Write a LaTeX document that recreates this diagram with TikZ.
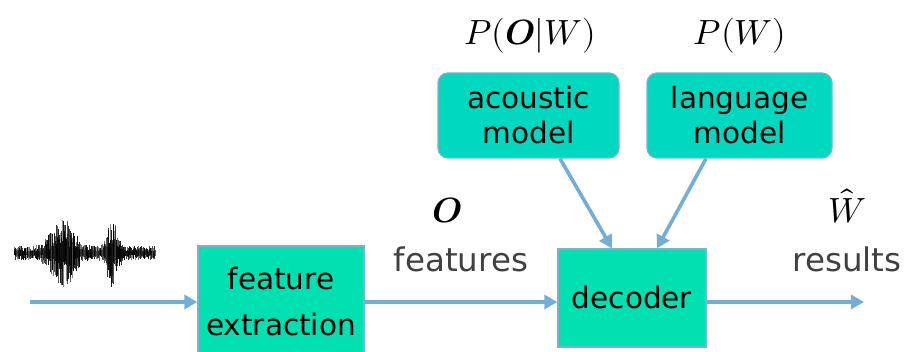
\documentclass[tikz,border=0pt]{standalone}
\usepackage{fontspec}
\usepackage{unicode-math}
\setmathfont{Latin Modern Math}
\usetikzlibrary{arrows.meta}
\newfontfamily\labfont{DejaVu Sans}
\definecolor{arrblue}{RGB}{116,174,212}
\definecolor{boxtop}{RGB}{0,217,192}
\definecolor{boxbot}{RGB}{0,224,176}
\definecolor{boxline}{RGB}{126,176,210}
\definecolor{labgray}{RGB}{64,64,64}
\tikzset{
  blockbox/.style={draw=boxline, line width=1.3pt, fill=boxbot, align=center,
    font=\labfont\fontsize{29.5}{46}\selectfont, inner sep=0pt},
  modelbox/.style={blockbox, fill=boxtop, rounded corners=10pt,
    font=\labfont\fontsize{29.5}{35}\selectfont},
  arr/.style={draw=arrblue, line width=3.6pt, -{Triangle[length=13pt,width=14pt]}},
  sidelabel/.style={font=\labfont\fontsize{32.5}{36}\selectfont, text=labgray, inner sep=0pt},
  mathlabel/.style={font=\fontsize{35}{40}\selectfont, inner sep=1pt}
}
\begin{document}
\begin{tikzpicture}[x=1pt,y=-1pt]
\useasboundingbox (0,0) rectangle (906,352);
\clip (0,0) rectangle (906,352);
% waveform
\pgfmathsetseed{7}
\foreach \i in {0,...,282}{
  \pgfmathsetmacro{\xx}{14+\i*0.5}
  \pgfmathsetmacro{\env}{7+28*exp(-((\xx-63)/15)^2)+27*exp(-((\xx-112)/7)^2)}
  \pgfmathsetmacro{\up}{\env*(0.2+0.8*rnd)}
  \pgfmathsetmacro{\dn}{\env*(0.2+0.8*rnd)}
  \pgfmathsetmacro{\op}{0.4+0.6*rnd}
  \draw[black, line width=0.55pt, draw opacity=\op] (\xx,253-\up) -- (\xx,253+\dn);
}
% boxes
\node[blockbox, minimum width=166pt, minimum height=112pt] (fe) at (281,302) {feature\\extraction};
\node[blockbox, minimum width=148pt, minimum height=98pt] (dec) at (632,298) {decoder};
\node[modelbox, minimum width=181pt, minimum height=85pt] (am) at (528.5,115.5) {acoustic\\model};
\node[modelbox, minimum width=185pt, minimum height=85pt] (lm) at (739.5,115.5) {language\\model};
% labels
\node[mathlabel] (pow) at (530,36) {$P(\symbfit{O}|W)$};
\node[mathlabel] (pw) at (740,36) {$P(W)$};
\node[mathlabel] (o) at (447,210) {$\symbfit{O}$};
\node[mathlabel] (wh) at (847,206) {$\hat{W}$};
\node[sidelabel] (feat) at (461,259) {features};
\node[sidelabel] (res) at (847,259) {results};
% connectors
\coordinate (in) at (30,302);
\coordinate (out) at (864,302);
\draw[arr] (in) -- (fe.west |- in);
\draw[arr] (fe.east |- in) -- (dec.west |- in);
\draw[arr] (dec.east |- out) -- (out);
\draw[arr] ([xshift=31.5pt]am.south) -- ([xshift=-20pt]dec.north);
\draw[arr] ([xshift=-33.5pt]lm.south) -- ([xshift=25pt]dec.north);
\end{tikzpicture}
\end{document}
